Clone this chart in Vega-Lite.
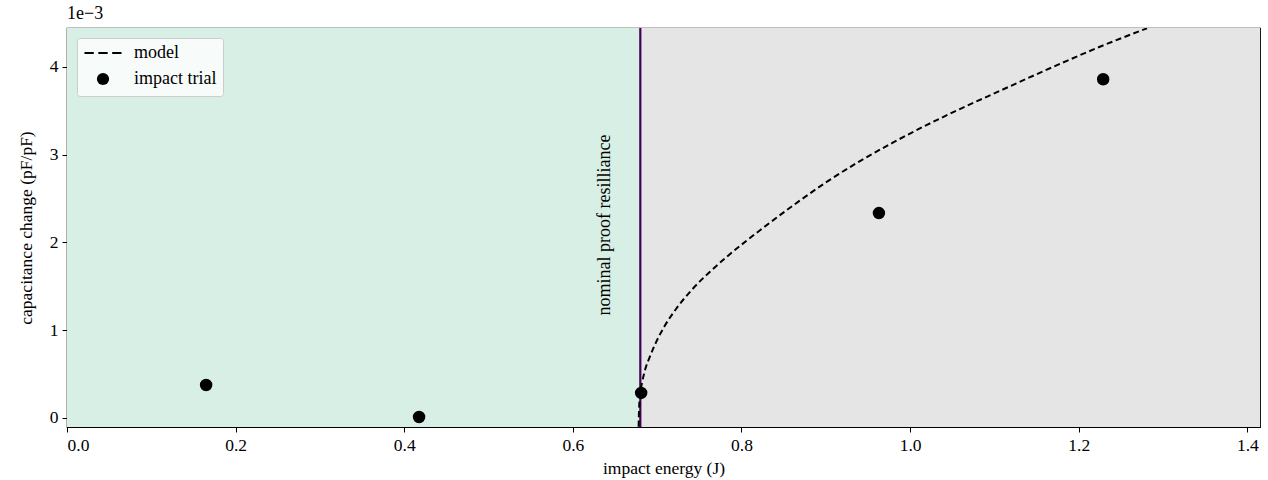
{
  "$schema": "https://vega.github.io/schema/vega-lite/v6.json",
  "width": 1193,
  "height": 399,
  "autosize": {"type": "none"},
  "padding": {"left": 67, "top": 28, "right": 8, "bottom": 53},
  "background": "white",
  "config": {
    "font": "Liberation Serif",
    "view": {"stroke": "black", "strokeWidth": 1.2},
    "axis": {
      "domain": false,
      "grid": false,
      "tickColor": "black",
      "tickSize": 5,
      "tickWidth": 1,
      "labelColor": "black",
      "labelFont": "Liberation Serif",
      "labelFontSize": 17.5,
      "titleFont": "Liberation Serif",
      "titleFontSize": 17.5,
      "titleFontWeight": "normal",
      "titleColor": "black"
    }
  },
  "title": {
    "text": "1e\u22123",
    "anchor": "start",
    "font": "Liberation Serif",
    "fontSize": 18,
    "fontWeight": "normal",
    "color": "black",
    "offset": 4,
    "frame": "group"
  },
  "datasets": {
    "regions": [
      {"start": 0.0, "end": 0.68, "region": "below"},
      {"start": 0.68, "end": 1.415, "region": "above"}
    ],
    "threshold": [{"energy": 0.68, "label": "nominal proof resilliance"}],
    "model": [
      {"energy": 0.678, "change": -0.0001},
      {"energy": 0.6785, "change": 0.0001},
      {"energy": 0.680, "change": 0.00028},
      {"energy": 0.6825, "change": 0.00042},
      {"energy": 0.686, "change": 0.00056},
      {"energy": 0.691, "change": 0.00069},
      {"energy": 0.699, "change": 0.00087},
      {"energy": 0.709, "change": 0.00105},
      {"energy": 0.723, "change": 0.00125},
      {"energy": 0.742, "change": 0.00147},
      {"energy": 0.763, "change": 0.00167},
      {"energy": 0.783, "change": 0.00184},
      {"energy": 0.806, "change": 0.00202},
      {"energy": 0.822, "change": 0.00214},
      {"energy": 0.861, "change": 0.00242},
      {"energy": 0.901, "change": 0.00269},
      {"energy": 0.941, "change": 0.00293},
      {"energy": 0.980, "change": 0.00314},
      {"energy": 1.020, "change": 0.00334},
      {"energy": 1.059, "change": 0.00352},
      {"energy": 1.107, "change": 0.00373},
      {"energy": 1.146, "change": 0.00390},
      {"energy": 1.186, "change": 0.00407},
      {"energy": 1.225, "change": 0.00423},
      {"energy": 1.281, "change": 0.00444}
    ],
    "trials": [
      {"energy": 0.165, "change": 0.000376, "series": "impact trial"},
      {"energy": 0.4176, "change": 0.000011, "series": "impact trial"},
      {"energy": 0.681, "change": 0.000285, "series": "impact trial"},
      {"energy": 0.963, "change": 0.002335, "series": "impact trial"},
      {"energy": 1.229, "change": 0.00386, "series": "impact trial"}
    ]
  },
  "layer": [
    {
      "data": {"name": "regions"},
      "mark": {"type": "rect", "clip": true},
      "encoding": {
        "x": {"field": "start", "type": "quantitative", "scale": {"domain": [0, 1.415], "nice": false, "zero": false}, "axis": {"values": [0, 0.2, 0.4, 0.6, 0.8, 1.0, 1.2, 1.4], "format": ".1f", "title": "impact energy (J)", "titlePadding": 6, "labelPadding": 4}},
        "x2": {"field": "end"},
        "fill": {"field": "region", "type": "nominal", "scale": {"domain": ["below", "above"], "range": ["#d8efe6", "#e5e5e5"]}, "legend": null}
      }
    },
    {
      "data": {"name": "threshold"},
      "mark": {"type": "rule", "color": "#440154", "strokeWidth": 2.2},
      "encoding": {
        "x": {"field": "energy", "type": "quantitative"}
      }
    },
    {
      "data": {"name": "threshold"},
      "mark": {"type": "text", "angle": 270, "align": "center", "baseline": "middle", "dy": -35, "fontSize": 18, "font": "Liberation Serif", "color": "black"},
      "encoding": {
        "x": {"field": "energy", "type": "quantitative"},
        "y": {"datum": 0.0022, "type": "quantitative"},
        "text": {"field": "label"}
      }
    },
    {
      "data": {"name": "model"},
      "mark": {"type": "line", "color": "black", "strokeDash": [6, 3.5], "strokeWidth": 2, "interpolate": "monotone", "clip": true},
      "encoding": {
        "x": {"field": "energy", "type": "quantitative"},
        "y": {"field": "change", "type": "quantitative"}
      }
    },
    {
      "data": {"name": "trials"},
      "mark": {"type": "point", "filled": false, "fill": "black", "stroke": "black", "strokeWidth": 2, "opacity": 1, "size": 110},
      "encoding": {
        "x": {"field": "energy", "type": "quantitative"},
        "y": {"field": "change", "type": "quantitative", "scale": {"domain": [-0.000103, 0.004444], "nice": false, "zero": false}, "axis": {"values": [0, 0.001, 0.002, 0.003, 0.004], "labelExpr": "round(datum.value*1000)", "title": "capacitance change (pF/pF)", "titlePadding": 14, "labelPadding": 4}},
        "shape": {
          "field": "series", "type": "nominal",
          "scale": {"domain": ["model", "impact trial"], "range": ["M-3.02,-0.163L-1.5,-0.163L-1.5,0.163L-3.02,0.163Z M-0.76,-0.163L0.76,-0.163L0.76,0.163L-0.76,0.163Z M1.5,-0.163L3.02,-0.163L3.02,0.163L1.5,0.163Z", "circle"]},
          "legend": {
            "title": null,
            "orient": "top-left",
            "offset": 10,
            "fillColor": "rgba(255,255,255,0.8)",
            "strokeColor": "#cccccc",
            "cornerRadius": 3,
            "padding": 6,
            "labelFont": "Liberation Serif",
            "labelFontSize": 18,
            "labelColor": "black",
            "symbolSize": 150,
            "symbolOffset": 11,
            "symbolStrokeWidth": 2,
            "symbolStrokeColor": "black",
            "symbolFillColor": "black",
            "labelOffset": 22,
            "rowPadding": 6
          }
        }
      }
    }
  ]
}
